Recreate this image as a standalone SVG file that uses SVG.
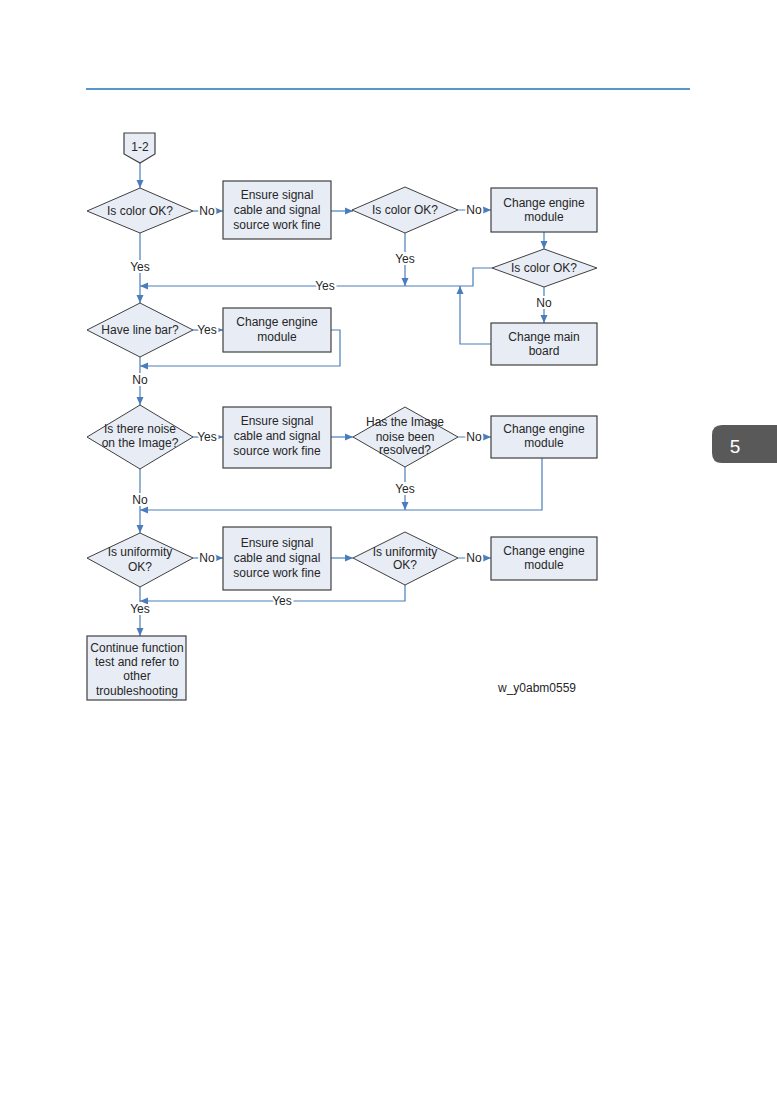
<svg xmlns="http://www.w3.org/2000/svg" width="777" height="1102" viewBox="0 0 777 1102">
<defs>
<marker id="ah" viewBox="0 0 8 8" refX="8" refY="4" markerWidth="8" markerHeight="8" markerUnits="userSpaceOnUse" orient="auto">
<path d="M0 0.5 L8 4 L0 7.5 Z" fill="#4a7ebb"/>
</marker>
</defs>
<style>
.box{fill:#e8ecf5;stroke:#404040;stroke-width:1.2}
.dia{fill:#e8ecf5;stroke:#404040;stroke-width:1}
.t{font-family:"Liberation Sans",Arial,sans-serif;font-size:12px;fill:#262626;text-anchor:middle}
.c{fill:none;stroke:#4a7ebb;stroke-width:1.2}
.a{marker-end:url(#ah)}
.lb{font-family:"Liberation Sans",Arial,sans-serif;font-size:12px;fill:#262626;text-anchor:middle;stroke:#ffffff;stroke-width:4;paint-order:stroke}
</style>
<rect width="777" height="1102" fill="#ffffff"/>
<line x1="86" y1="89" x2="690" y2="89" stroke="#5a96c8" stroke-width="2"/>
<g id="tab5">
<path d="M722 425 H777 V463 H722 Q712 463 712 453 V435 Q712 425 722 425 Z" fill="#595959"/>
<text x="735" y="453" font-family="Liberation Sans,Arial,sans-serif" font-size="19" fill="#ffffff" text-anchor="middle">5</text>
</g>
<g id="connectors">
<path class="c a" d="M140 163 V188"/>
<path class="c a" d="M193 211 H223"/>
<path class="c a" d="M331 211 H353"/>
<path class="c a" d="M458 210 H491"/>
<path class="c a" d="M544 232 V249"/>
<path class="c a" d="M544 287 V323"/>
<path class="c a" d="M492 268 H473 V286 H140"/>
<path class="c a" d="M491 344 H460 V286"/>
<path class="c a" d="M405 233 V286"/>
<path class="c a" d="M140 233 V303"/>
<path class="c a" d="M193 330 H223"/>
<path class="c a" d="M331 330 H340 V366 H140"/>
<path class="c a" d="M140 357 V405"/>
<path class="c a" d="M193 437 H223"/>
<path class="c a" d="M331 437 H353"/>
<path class="c a" d="M458 437 H491"/>
<path class="c a" d="M405 467 V510"/>
<path class="c a" d="M542 458 V510 H140"/>
<path class="c a" d="M140 469 V533"/>
<path class="c a" d="M193 558 H223"/>
<path class="c a" d="M331 558 H353"/>
<path class="c a" d="M458 558 H491"/>
<path class="c a" d="M405 585 V601 H140"/>
<path class="c a" d="M140 587 V636"/>
<text class="lb" x="207" y="215">No</text>
<text class="lb" x="474" y="214">No</text>
<text class="lb" x="544" y="307">No</text>
<text class="lb" x="325" y="290">Yes</text>
<text class="lb" x="405" y="263">Yes</text>
<text class="lb" x="140" y="271">Yes</text>
<text class="lb" x="207" y="334">Yes</text>
<text class="lb" x="140" y="384">No</text>
<text class="lb" x="207" y="441">Yes</text>
<text class="lb" x="474" y="441">No</text>
<text class="lb" x="405" y="493">Yes</text>
<text class="lb" x="140" y="504">No</text>
<text class="lb" x="207" y="562">No</text>
<text class="lb" x="474" y="562">No</text>
<text class="lb" x="282" y="605">Yes</text>
<text class="lb" x="140" y="613">Yes</text>
</g>
<g id="start">
<path class="box" d="M124 133 H155 V154 L140 163 L124 154 Z"/>
<text class="t" x="140" y="151">1-2</text>
</g>
<g id="d1">
<path class="dia" d="M140 188 L193 211 L140 233 L87 211 Z"/>
<text class="t" x="140" y="215">Is color OK?</text>
</g>
<g id="b1">
<rect class="box" x="223" y="181" width="108" height="58"/>
<text class="t" x="277" y="199">Ensure signal</text>
<text class="t" x="277" y="214">cable and signal</text>
<text class="t" x="277" y="229">source work fine</text>
</g>
<g id="d2">
<path class="dia" d="M405 187 L458 210 L405 233 L352 210 Z"/>
<text class="t" x="405" y="214">Is color OK?</text>
</g>
<g id="b2">
<rect class="box" x="491" y="188" width="106" height="44"/>
<text class="t" x="544" y="207">Change engine</text>
<text class="t" x="544" y="221">module</text>
</g>
<g id="d3">
<path class="dia" d="M544 249 L597 268 L544 287 L492 268 Z"/>
<text class="t" x="544" y="272">Is color OK?</text>
</g>
<g id="b3">
<rect class="box" x="491" y="323" width="106" height="42"/>
<text class="t" x="544" y="341">Change main</text>
<text class="t" x="544" y="355">board</text>
</g>
<g id="d4">
<path class="dia" d="M140 303 L193 330 L140 357 L87 330 Z"/>
<text class="t" x="140" y="334">Have line bar?</text>
</g>
<g id="b4">
<rect class="box" x="223" y="308" width="108" height="44"/>
<text class="t" x="277" y="326">Change engine</text>
<text class="t" x="277" y="341">module</text>
</g>
<g id="d5">
<path class="dia" d="M140 405 L193 437 L140 469 L87 437 Z"/>
<text class="t" x="140" y="433">Is there noise</text>
<text class="t" x="140" y="447">on the Image?</text>
</g>
<g id="b5">
<rect class="box" x="223" y="407" width="108" height="61"/>
<text class="t" x="277" y="425">Ensure signal</text>
<text class="t" x="277" y="440">cable and signal</text>
<text class="t" x="277" y="455">source work fine</text>
</g>
<g id="d6">
<path class="dia" d="M405 407 L458 437 L405 467 L353 437 Z"/>
<text class="t" x="405" y="426">Has the Image</text>
<text class="t" x="405" y="441">noise been</text>
<text class="t" x="405" y="454">resolved?</text>
</g>
<g id="b6">
<rect class="box" x="491" y="416" width="106" height="42"/>
<text class="t" x="544" y="433">Change engine</text>
<text class="t" x="544" y="447">module</text>
</g>
<g id="d7">
<path class="dia" d="M140 533 L193 558 L140 587 L87 558 Z"/>
<text class="t" x="140" y="556">Is uniformity</text>
<text class="t" x="140" y="571">OK?</text>
</g>
<g id="b7">
<rect class="box" x="223" y="527" width="108" height="63"/>
<text class="t" x="277" y="547">Ensure signal</text>
<text class="t" x="277" y="562">cable and signal</text>
<text class="t" x="277" y="577">source work fine</text>
</g>
<g id="d8">
<path class="dia" d="M405 532 L458 558 L405 585 L353 558 Z"/>
<text class="t" x="405" y="556">Is uniformity</text>
<text class="t" x="405" y="569">OK?</text>
</g>
<g id="b8">
<rect class="box" x="491" y="537" width="106" height="43"/>
<text class="t" x="544" y="555">Change engine</text>
<text class="t" x="544" y="569">module</text>
</g>
<g id="b9">
<rect class="box" x="87" y="636" width="99" height="64"/>
<text class="t" x="137" y="652">Continue function</text>
<text class="t" x="137" y="666">test and refer to</text>
<text class="t" x="137" y="680">other</text>
<text class="t" x="137" y="695">troubleshooting</text>
</g>
<text class="t" x="537" y="692">w_y0abm0559</text>
</svg>
